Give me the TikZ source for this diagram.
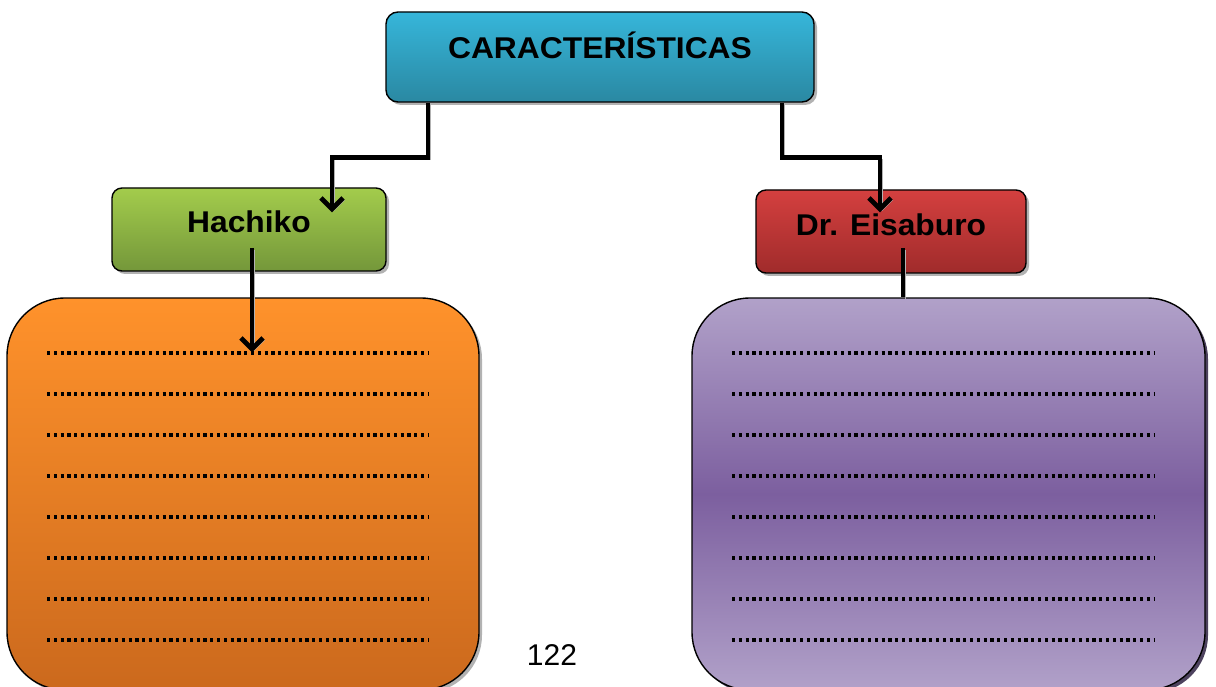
\documentclass[tikz,border=0pt]{standalone}
\usepackage{fontspec}
\setmainfont{Liberation Sans}
\usetikzlibrary{arrows.meta,shadows,calc}
\definecolor{cyanT}{HTML}{36B6DA}
\definecolor{cyanB}{HTML}{2A88A2}
\definecolor{grT}{HTML}{A3CC4C}
\definecolor{grB}{HTML}{74973A}
\definecolor{rdT}{HTML}{D4403F}
\definecolor{rdB}{HTML}{A02B2B}
\definecolor{orT}{HTML}{FF922B}
\definecolor{orB}{HTML}{CB691D}
\definecolor{puL}{HTML}{B1A1C9}
\definecolor{puD}{HTML}{7C5F9F}
\definecolor{puS}{HTML}{3A2E4C}
\begin{document}
\begin{tikzpicture}[x=1pt,y=-1pt,
  box/.style={draw=black, line width=1.4pt, rounded corners=12pt,
    drop shadow={shadow xshift=3pt,shadow yshift=-3pt,fill=black!55,opacity=0.55}},
  conn/.style={line width=4.8pt, black, line join=miter,
    preaction={draw=black!30, transform canvas={xshift=2pt,yshift=-2pt}}},
  tip/.style={-{Straight Barb[length=11pt,width=22pt]}},
  lbl/.style={font=\fontsize{30}{34}\selectfont\bfseries, xscale=1.06, inner sep=0pt},
  dots/.style={line width=3.2pt, dash pattern=on 3.2pt off 3.6pt},
]
\path[use as bounding box] (0,0) rectangle (1216,687);

% boxes
\node[box, minimum width=428pt, minimum height=90pt, top color=cyanT, bottom color=cyanB] (top) at (600,57) {};
\node[lbl] (toplbl) at ([yshift=12pt]top.center) {CARACTERÍSTICAS};

\node[box, rounded corners=10pt, minimum width=274pt, minimum height=83pt, top color=grT, bottom color=grB] (hach) at (249,229.5) {};
\node[lbl] (hachlbl) at ([yshift=8pt]hach.center) {Hachiko};

\node[box, rounded corners=10pt, minimum width=270pt, minimum height=83pt, top color=rdT, bottom color=rdB] (dr) at (891,231.5) {};
\node[lbl] (drlbl) at ([yshift=7pt]dr.center) {Dr. Eisaburo};

\node[box, rounded corners=58pt, minimum width=472pt, minimum height=392pt, top color=orT, bottom color=orB] (orange) at (243,494) {};

\node[draw=black, line width=1.4pt, rounded corners=58pt, minimum width=513pt, minimum height=392pt,
  drop shadow={shadow xshift=3pt,shadow yshift=-3pt,fill=puS,opacity=0.9},
  top color=puL, bottom color=puL, middle color=puD] (purple) at (948.5,494) {};

% dotted lines
\foreach \k in {0,...,7}{
  \draw[dots] (47,353+41*\k) -- (429,353+41*\k);
  \draw[dots] (732,353+41*\k) -- (1155,353+41*\k);
}

% connectors
\draw[conn,tip] ([xshift=-172pt]top.south) -- ++(0,55) -| ([xshift=83pt,yshift=-25pt]hach.north);
\draw[conn,tip] ([xshift=182pt]top.south) -- ++(0,55) -| ([xshift=-11pt,yshift=-23pt]dr.north);
\draw[conn,tip] ([xshift=3pt,yshift=-18.5pt]hach.center) -- ([xshift=9pt,yshift=-55pt]orange.north);
\coordinate (dtop) at ([xshift=12pt,yshift=-16.5pt]dr.center);
\draw[conn] (dtop) -- (dtop |- purple.north);

\node[font=\fontsize{30}{34}\selectfont, inner sep=0pt] (pg) at (552,655) {122};
\end{tikzpicture}
\end{document}
